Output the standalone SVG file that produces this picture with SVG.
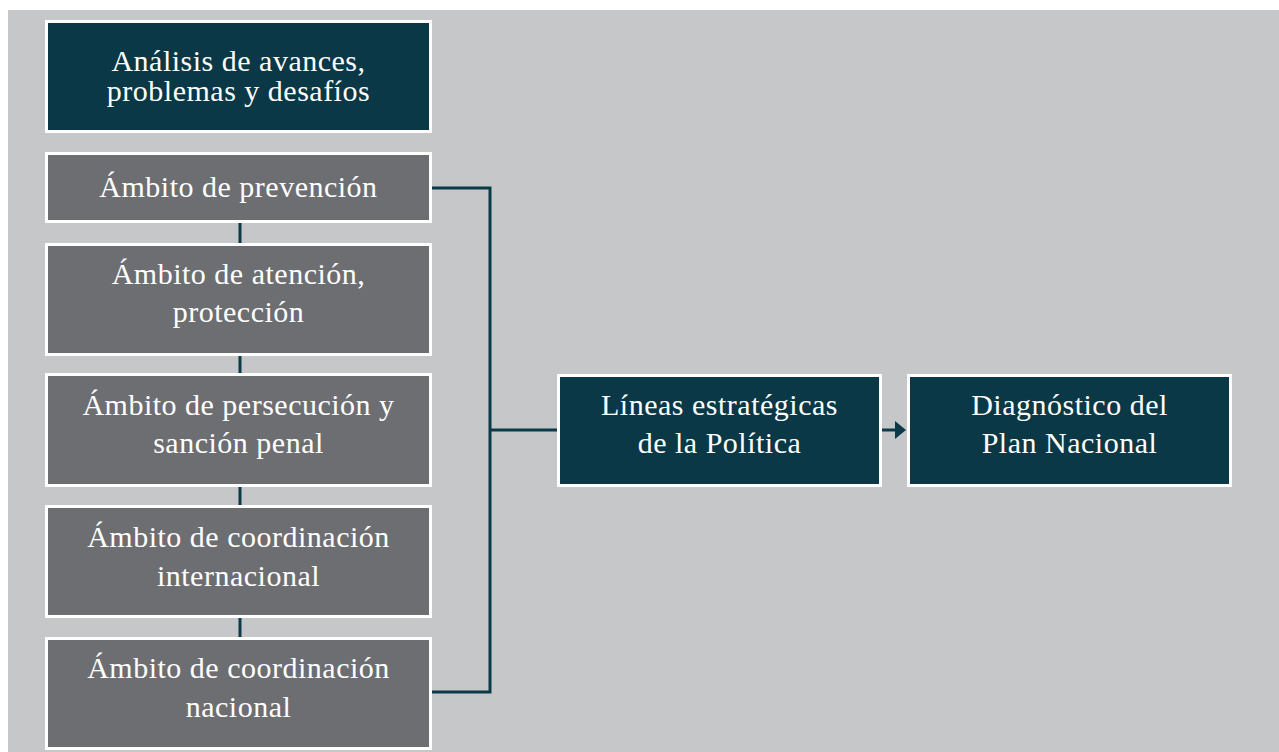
<svg xmlns="http://www.w3.org/2000/svg" width="1279" height="752" viewBox="0 0 1279 752">
<style>
.bg{fill:#c6c7c9}
.dk{fill:#0a3846;stroke:#ffffff;stroke-width:3}
.gr{fill:#6d6e72;stroke:#ffffff;stroke-width:3}
.t{font-family:"Liberation Serif","Times New Roman",serif;font-size:30px;fill:#ffffff;text-anchor:middle;letter-spacing:0.5px}
.c{fill:none;stroke:#0d3a48;stroke-width:3}
</style>
<rect width="1279" height="752" fill="#ffffff"/>
<rect class="bg" x="8" y="10" width="1271" height="742"/>
<g id="connectors">
<path class="c" d="M240 223V243M240 356V373M240 487V505M240 618V637"/>
<path class="c" d="M432 188H490V692H432M490 430H557"/>
<path class="c" d="M882 430H896"/>
<polygon points="895,421 906,430 895,439" fill="#0d3a48"/>
</g>
<g id="n1"><rect class="dk" x="46.5" y="21.5" width="384" height="110"/>
<text class="t" x="238.5" y="71">Análisis de avances,</text><text class="t" x="238.5" y="101">problemas y desafíos</text></g>
<g id="n2"><rect class="gr" x="46.5" y="153.5" width="384" height="68"/>
<text class="t" x="238.5" y="197">Ámbito de prevención</text></g>
<g id="n3"><rect class="gr" x="46.5" y="244.5" width="384" height="110"/>
<text class="t" x="238.5" y="284">Ámbito de atención,</text><text class="t" x="238.5" y="322">protección</text></g>
<g id="n4"><rect class="gr" x="46.5" y="374.5" width="384" height="111"/>
<text class="t" x="238.5" y="415">Ámbito de persecución y</text><text class="t" x="238.5" y="453">sanción penal</text></g>
<g id="n5"><rect class="gr" x="46.5" y="506.5" width="384" height="110"/>
<text class="t" x="238.5" y="547">Ámbito de coordinación</text><text class="t" x="238.5" y="586">internacional</text></g>
<g id="n6"><rect class="gr" x="46.5" y="638.5" width="384" height="110"/>
<text class="t" x="238.5" y="678">Ámbito de coordinación</text><text class="t" x="238.5" y="717">nacional</text></g>
<g id="n7"><rect class="dk" x="558.5" y="375.5" width="322" height="110"/>
<text class="t" x="719.5" y="415">Líneas estratégicas</text><text class="t" x="719.5" y="453">de la Política</text></g>
<g id="n8"><rect class="dk" x="908.5" y="375.5" width="322" height="110"/>
<text class="t" x="1069.5" y="415">Diagnóstico del</text><text class="t" x="1069.5" y="453">Plan Nacional</text></g>
</svg>
